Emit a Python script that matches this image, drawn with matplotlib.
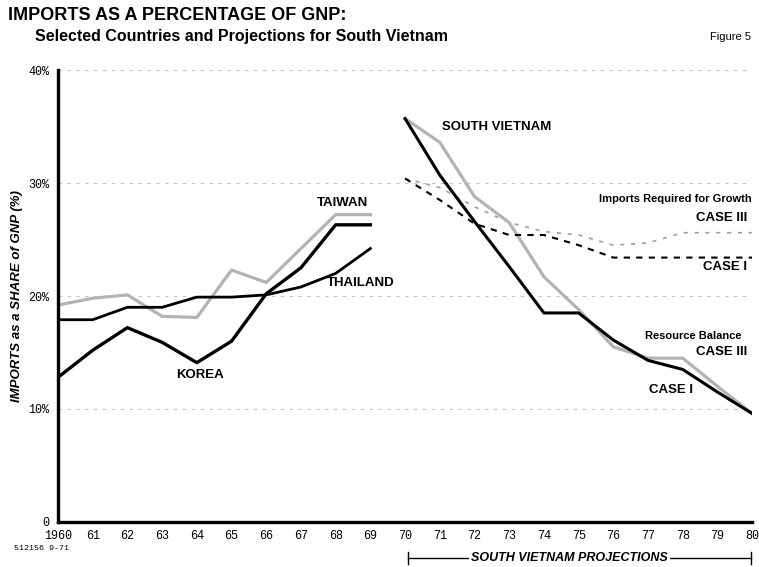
import numpy as np
import matplotlib
matplotlib.use("Agg")
import matplotlib.pyplot as plt

# historical data, 1960-69
hist_years = [1960, 1961, 1962, 1963, 1964, 1965, 1966, 1967, 1968, 1969]
korea = [12.8, 15.2, 17.2, 15.9, 14.1, 16.0, 20.2, 22.5, 26.3, 26.3]
thailand = [17.9, 17.9, 19.0, 19.0, 19.9, 19.9, 20.1, 20.8, 22.0, 24.2]
taiwan = [19.2, 19.8, 20.1, 18.2, 18.1, 22.3, 21.2, 24.2, 27.2, 27.2]

# South Vietnam projections, 1970-80
proj_years = [1970, 1971, 1972, 1973, 1974, 1975, 1976, 1977, 1978, 1979, 1980]
rb_case1 = [35.7, 30.7, 26.6, 22.6, 18.5, 18.5, 16.1, 14.3, 13.5, 11.5, 9.6]
rb_case3 = [35.7, 33.6, 28.8, 26.5, 21.7, 18.8, 15.5, 14.5, 14.5, 12.0, 9.6]
growth_case1 = [30.4, 28.5, 26.4, 25.4, 25.4, 24.5, 23.4, 23.4, 23.4, 23.4, 23.4]
growth_case3 = [30.4, 29.6, 27.9, 26.5, 25.7, 25.4, 24.5, 24.7, 25.6, 25.6, 25.6]

xtick_labels = ["1960", "61", "62", "63", "64", "65", "66", "67", "68", "69",
                "70", "71", "72", "73", "74", "75", "76", "77", "78", "79", "80"]
ytick_vals = [0, 10, 20, 30, 40]
ytick_labels = ["0", "10%", "20%", "30%", "40%"]

GRAY = "#b3b3b3"
mono = "Liberation Mono"

fig = plt.figure(figsize=(7.59, 5.67), dpi=100)
ax = fig.add_axes([0.0764, 0.0794, 0.9146, 0.7971])

# faint grid
for v in [10, 20, 30, 40]:
    ax.axhline(v, color="#c4c4c4", lw=0.8, ls=(0, (3, 5)), zorder=0)
ax.axvline(1980, color="#cccccc", lw=0.8, ls=(0, (2, 4)), ymin=0.1, ymax=0.95, zorder=0)

ax.plot(hist_years, taiwan, color=GRAY, lw=2.3, solid_joinstyle="round", zorder=2)
ax.plot(hist_years, thailand, color="black", lw=2.0, zorder=3)
ax.plot(hist_years, korea, color="black", lw=2.4, zorder=3)

ax.plot(proj_years, growth_case3, color="#a0a0a0", lw=1.2, ls=(0, (2.5, 4)), zorder=2)
ax.plot(proj_years, growth_case1, color="black", lw=1.5, ls=(0, (3, 3)), zorder=3)
ax.plot(proj_years, rb_case3, color=GRAY, lw=2.3, zorder=2)
ax.plot(proj_years, rb_case1, color="black", lw=2.2, zorder=3)

ax.set_xlim(1960, 1980)
ax.set_ylim(0, 40)
ax.set_xticks(range(1960, 1981))
ax.set_xticklabels(xtick_labels, fontfamily=mono, fontsize=8.5)
ax.set_yticks(ytick_vals)
ax.set_yticklabels(ytick_labels, fontfamily=mono, fontsize=8.5)
ax.tick_params(length=0, pad=6)

for s in ["top", "right"]:
    ax.spines[s].set_visible(False)
ax.spines["left"].set_linewidth(2.4)
ax.spines["bottom"].set_linewidth(2.4)

ax.set_ylabel("IMPORTS as a SHARE of GNP (%)", fontsize=9.5, fontstyle="italic",
              fontweight="bold", family="Liberation Sans", labelpad=4)

# series labels
lab = dict(fontsize=9.5, fontweight="bold", family="Liberation Sans")
ax.text(1967.45, 28.0, "TAIWAN", **lab)
ax.text(1967.75, 20.9, "THAILAND", **lab)
ax.text(1963.4, 12.7, "KOREA", **lab)
ax.text(1971.05, 34.7, "SOUTH VIETNAM", **lab)
small = dict(fontsize=8, fontweight="bold", family="Liberation Sans", ha="right")
ax.text(1980, 28.3, "Imports Required for Growth", **small)
ax.text(1979.85, 26.6, "CASE III", **lab, ha="right")
ax.text(1979.85, 22.3, "CASE I", **lab, ha="right")
ax.text(1979.7, 16.2, "Resource Balance", **small)
ax.text(1979.85, 14.8, "CASE III", **lab, ha="right")
ax.text(1978.3, 11.4, "CASE I", **lab, ha="right")

# titles
fig.text(0.011, 0.972, "IMPORTS AS A PERCENTAGE OF GNP:", fontsize=13,
         fontweight="bold", family="Liberation Sans", va="center")
fig.text(0.046, 0.935, "Selected Countries and Projections for South Vietnam",
         fontsize=11.5, fontweight="bold", family="Liberation Sans", va="center")
fig.text(0.99, 0.935, "Figure 5", fontsize=8, family="Liberation Sans",
         ha="right", va="center")
fig.text(0.018, 0.033, "512156 9-71", fontsize=6, family=mono, va="center")

# projections bracket
yb = 0.016
x0, x1 = 0.537, 0.990
fig.add_artist(plt.Line2D([x0, x1], [yb, yb], color="black", lw=1.0))
fig.add_artist(plt.Line2D([x0, x0], [yb - 0.01, yb + 0.01], color="black", lw=1.0))
fig.add_artist(plt.Line2D([x1, x1], [yb - 0.01, yb + 0.01], color="black", lw=1.0))
fig.text(0.75, yb, "SOUTH VIETNAM PROJECTIONS", fontsize=9, fontstyle="italic",
         fontweight="bold", family="Liberation Sans", ha="center", va="center",
         bbox=dict(facecolor="white", edgecolor="none", pad=1.5))

fig.savefig("out.png", dpi=100)
